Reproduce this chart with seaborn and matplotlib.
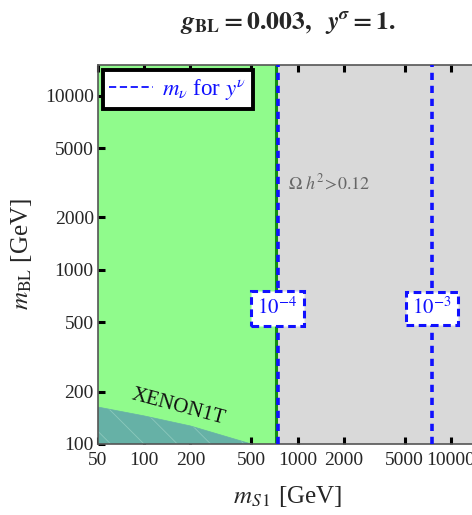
import numpy as np
import pandas as pd
import matplotlib
matplotlib.use("Agg")
import matplotlib.pyplot as plt
import seaborn as sns
from matplotlib.lines import Line2D

# ---- data ----
x_ticks = [50, 100, 200, 500, 1000, 2000, 5000, 10000]
y_ticks = [100, 200, 500, 1000, 2000, 5000, 10000]
x_range = [50, 15000]
y_range = [100, 15000]
relic_mS1 = 720            # Omega h^2 = 0.12 boundary
xenon_mS1 = [50, 100, 200, 500]
xenon_mBL = [163, 145, 127, 100]
mnu_mS1 = [740, 7500]
mnu_labels = [r"$10^{-4}$", r"$10^{-3}$"]
mnu_label_mBL = 600

sns.set_theme(style="ticks")
plt.rcParams["font.family"] = ["Liberation Serif", "DejaVu Serif"]
plt.rcParams["mathtext.fontset"] = "stix"
plt.rcParams["hatch.color"] = "#8cc8bc"
plt.rcParams["hatch.linewidth"] = 0.6

fig = plt.figure(figsize=(4.72, 5.15), dpi=100)
ax = fig.add_axes([98/472, 71/515, 380/472, 379/515])
ax.set_xscale("log")
ax.set_yscale("log")
ax.set_xlim(*x_range)
ax.set_ylim(*y_range)

green = "#90fb8c"
gray = "#d9d9d9"
teal = "#66b1a6"

ax.axvspan(x_range[0], relic_mS1, color=green, zorder=0, lw=0)
ax.axvspan(relic_mS1, x_range[1], color=gray, zorder=0, lw=0)
ax.axvline(relic_mS1, color="#109010", lw=2.2, zorder=2)

df = pd.DataFrame({"mS1": xenon_mS1, "mBL": xenon_mBL})
ax.fill_between(df["mS1"], y_range[0], df["mBL"], facecolor=teal, edgecolor="#8cc8bc",
                hatch="\\", lw=0, zorder=1)
sns.lineplot(data=df, x="mS1", y="mBL", ax=ax, color=teal, lw=0.5, zorder=1)

for xv in mnu_mS1:
    ax.axvline(xv, color="#1010ff", lw=2.6, ls=(0, (2.0, 1.6)), zorder=3)
for xv, lab in zip(mnu_mS1, mnu_labels):
    ax.text(xv, mnu_label_mBL, lab, color="#1010ff", fontsize=15, ha="center", va="center",
            zorder=5,
            bbox=dict(boxstyle="square,pad=0.3", fc="white", ec="#1010ff", ls=(0, (2.5, 1.5)), lw=2.2))

ax.text(860, 3150, r"$\Omega\ h^2\!>\!0.12$", color="#666666", fontsize=13, ha="left", va="center",
        zorder=4)
ax.text(166, 162, "XENON1T", rotation=-15, fontsize=15, ha="center", va="center", zorder=4,
        color="#111111")

# legend
leg = ax.legend(handles=[Line2D([], [], color="#1010ff", ls=(0, (4, 2)), lw=1.3)],
                labels=[r"$m_\nu$ for $y^\nu$"], loc="upper left",
                bbox_to_anchor=(0.012, 0.987), frameon=True, fancybox=False,
                fontsize=16.5, handlelength=1.9, handletextpad=0.4, borderpad=0.3,
                borderaxespad=0)
for t in leg.get_texts():
    t.set_color("#1010ff")
leg.get_frame().set_edgecolor("black")
leg.get_frame().set_linewidth(2.8)
leg.get_frame().set_alpha(1)
leg.set_zorder(6)

ax.set_xticks(x_ticks)
ax.set_xticklabels([str(v) for v in x_ticks])
ax.set_yticks(y_ticks)
ax.set_yticklabels([str(v) for v in y_ticks])
ax.minorticks_off()
ax.tick_params(axis="both", which="major", direction="in", length=5, width=2.2, color="black",
               labelsize=14, top=True, right=False, pad=3)
ax.tick_params(axis="x", pad=6)
for s in ax.spines.values():
    s.set_color("#555555")
    s.set_linewidth(1.2)

ax.set_xlabel(r"$m_{S\,1}$ [GeV]", fontsize=18)
ax.set_ylabel(r"$m_{\rm BL}$ [GeV]", fontsize=18)
ax.xaxis.set_label_coords(0.5, -0.105)
ax.yaxis.set_label_coords(-0.168, 0.5)
fig.text(288/472, 1 - 22/515, r"$\boldsymbol{g}_{\mathbf{BL}}\mathbf{=0.003,\ \ }\boldsymbol{y}^{\boldsymbol{\sigma}}\mathbf{=1.}$",
         fontsize=18.5, ha="center", va="center")

fig.savefig("out.png", dpi=100)
